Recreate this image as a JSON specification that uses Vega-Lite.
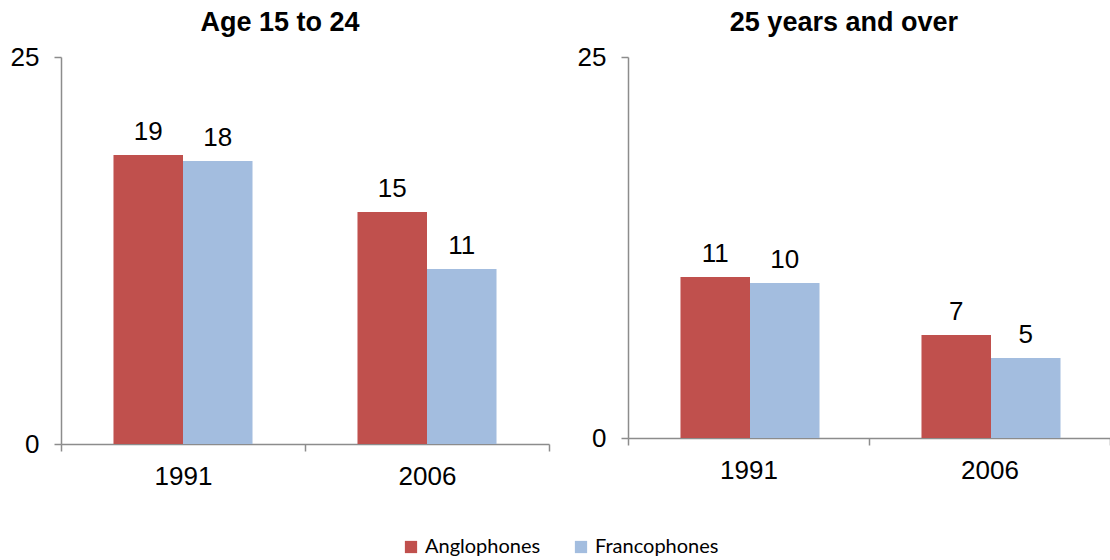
{
  "$schema": "https://vega.github.io/schema/vega-lite/v6.json",
  "background": "white",
  "padding": {"left": 10, "top": 9, "right": 0, "bottom": 0},
  "data": {"values": [
    {"panel": "Age 15 to 24", "year": "1991", "group": "Anglophones", "value": 18.67},
    {"panel": "Age 15 to 24", "year": "1991", "group": "Francophones", "value": 18.28},
    {"panel": "Age 15 to 24", "year": "2006", "group": "Anglophones", "value": 14.99},
    {"panel": "Age 15 to 24", "year": "2006", "group": "Francophones", "value": 11.3},
    {"panel": "25 years and over", "year": "1991", "group": "Anglophones", "value": 10.56},
    {"panel": "25 years and over", "year": "1991", "group": "Francophones", "value": 10.17},
    {"panel": "25 years and over", "year": "2006", "group": "Anglophones", "value": 6.76},
    {"panel": "25 years and over", "year": "2006", "group": "Francophones", "value": 5.25}
  ]},
  "spacing": 27,
  "hconcat": [
    {
      "width": 488, "height": 387,
      "title": {"text": "Age 15 to 24"},
      "transform": [{"filter": "datum.panel == 'Age 15 to 24'"}],
      "encoding": {
        "x": {"field": "year", "type": "nominal", "scale": {"paddingInner": 0, "paddingOuter": 0}, "axis": {"title": null}},
        "xOffset": {"field": "group", "type": "nominal", "scale": {"paddingInner": 0, "paddingOuter": 0.755}},
        "y": {"field": "value", "type": "quantitative", "scale": {"domain": [0, 25]}, "axis": {"title": null, "values": [0, 25]}}
      },
      "layer": [
        {"mark": {"type": "bar"},
         "encoding": {"color": {"field": "group", "type": "nominal", "scale": {"domain": ["Anglophones", "Francophones"], "range": ["#C0504D", "#A3BDDF"]},
           "legend": {"orient": "bottom", "direction": "horizontal", "title": null, "offset": 48}}}},
        {"mark": {"type": "text", "baseline": "alphabetic", "dy": -15, "fontSize": 26, "font": "Liberation Sans", "color": "black"},
         "encoding": {"text": {"field": "value", "type": "quantitative", "format": ".0f"}}}
      ]
    },
    {
      "width": 482, "height": 381,
      "title": {"text": "25 years and over"},
      "transform": [{"filter": "datum.panel == '25 years and over'"}],
      "encoding": {
        "x": {"field": "year", "type": "nominal", "scale": {"paddingInner": 0, "paddingOuter": 0}, "axis": {"title": null}},
        "xOffset": {"field": "group", "type": "nominal", "scale": {"paddingInner": 0, "paddingOuter": 0.755}},
        "y": {"field": "value", "type": "quantitative", "scale": {"domain": [0, 25]}, "axis": {"title": null, "values": [0, 25]}}
      },
      "layer": [
        {"mark": {"type": "bar"},
         "encoding": {"color": {"field": "group", "type": "nominal", "scale": {"domain": ["Anglophones", "Francophones"], "range": ["#C0504D", "#A3BDDF"]}}}},
        {"mark": {"type": "text", "baseline": "alphabetic", "dy": -15, "fontSize": 26, "font": "Liberation Sans", "color": "black"},
         "encoding": {"text": {"field": "value", "type": "quantitative", "format": ".0f"}}}
      ]
    }
  ],
  "config": {
    "view": {"stroke": null},
    "title": {"font": "Liberation Sans", "fontSize": 27, "fontWeight": "bold", "color": "black", "anchor": "middle", "frame": "bounds", "baseline": "alphabetic", "offset": 7},
    "axis": {"grid": false, "domainColor": "#8C8C8C", "tickColor": "#8C8C8C", "domainWidth": 1.5, "tickWidth": 1.5, "tickSize": 7,
      "labelFont": "Liberation Sans", "labelFontSize": 26, "labelColor": "black"},
    "axisY": {"labelPadding": 15},
    "axisX": {"labelAngle": 0, "labelPadding": 12, "tickBand": "extent"},
    "legend": {"symbolType": "square", "symbolSize": 150, "symbolStrokeWidth": 0, "labelFont": "Lato", "labelFontSize": 20, "labelColor": "black", "columnPadding": 30, "symbolOpacity": 1,
      "layout": {"bottom": {"anchor": "middle"}}}
  }
}
